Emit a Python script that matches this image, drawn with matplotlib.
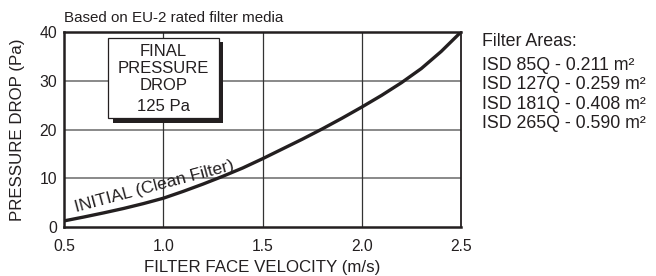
import matplotlib
matplotlib.use("Agg")
import matplotlib.pyplot as plt
from matplotlib.patches import Rectangle

plt.rcParams['font.family'] = ['Liberation Sans', 'DejaVu Sans']

velocity = [0.5, 0.6, 0.7, 0.8, 0.9, 1.0, 1.1, 1.2, 1.3, 1.4, 1.5, 1.6, 1.7, 1.8,
            1.9, 2.0, 2.1, 2.2, 2.3, 2.4, 2.5]
pressure = [1.25, 2.05, 2.9, 3.8, 4.8, 5.9, 7.3, 8.8, 10.4, 12.1, 14.0, 16.0, 18.0, 20.1,
            22.3, 24.6, 27.0, 29.6, 32.5, 36.0, 40.0]

x_ticks = [0.5, 1.0, 1.5, 2.0, 2.5]
x_tick_labels = ["0.5", "1.0", "1.5", "2.0", "2.5"]
y_ticks = [0, 10, 20, 30, 40]
y_tick_labels = ["0", "10", "20", "30", "40"]

filter_areas = ["ISD 85Q - 0.211 m²", "ISD 127Q - 0.259 m²",
                "ISD 181Q - 0.408 m²", "ISD 265Q - 0.590 m²"]

W, H = 656, 276
fig = plt.figure(figsize=(W/100, H/100), dpi=100)
ax = fig.add_axes([64/W, 1-227/H, (461-64)/W, (227-32)/H])
ax.set_xlim(0.5, 2.5)
ax.set_ylim(0, 40)

ink = '#231f20'
# grid
for yv in [10, 20, 30]:
    ax.axhline(yv, color='#808080', lw=1.3, zorder=1)
for xv in [1.0, 1.5, 2.0]:
    ax.axvline(xv, color='#333333', lw=0.9, zorder=1)

for s in ['left', 'bottom', 'top']:
    ax.spines[s].set_linewidth(1.8)
    ax.spines[s].set_color(ink)
ax.spines['right'].set_linewidth(1.3)
ax.spines['right'].set_color(ink)

ax.set_xticks(x_ticks)
ax.set_xticklabels(x_tick_labels)
ax.set_yticks(y_ticks)
ax.set_yticklabels(y_tick_labels)
ax.tick_params(length=0, labelsize=11.3, colors=ink)
ax.tick_params(axis='x', pad=8.5)
ax.tick_params(axis='y', pad=5)

ax.plot(velocity, pressure, color=ink, lw=2.4, zorder=3, solid_capstyle='butt',
        solid_joinstyle='round')

ax.set_xlabel("FILTER FACE VELOCITY (m/s)", fontsize=12.2, color=ink, labelpad=4.5)
ax.set_ylabel("PRESSURE DROP (Pa)", fontsize=12.2, color=ink, labelpad=10)

# final pressure drop box with shadow
bx0, bx1 = 0.722, 1.28
by0, by1 = 22.3, 38.8
ax.add_patch(Rectangle((bx0 + 0.023, by0 - 0.95), bx1 - bx0, by1 - by0,
                       facecolor=ink, edgecolor='none', zorder=4))
ax.add_patch(Rectangle((bx0, by0), bx1 - bx0, by1 - by0,
                       facecolor='white', edgecolor=ink, lw=0.9, zorder=5))
bxc = (bx0 + bx1) / 2
ax.text(bxc, 35.0, "FINAL", ha='center', va='baseline', fontsize=12, color=ink, zorder=6)
ax.text(bxc, 31.6, "PRESSURE", ha='center', va='baseline', fontsize=12, color=ink, zorder=6)
ax.text(bxc, 28.2, "DROP", ha='center', va='baseline', fontsize=12, color=ink, zorder=6)
ax.text(bxc, 23.8, "125 Pa", ha='center', va='baseline', fontsize=12, color=ink, zorder=6)

ax.text(0.955, 8.4, "INITIAL (Clean Filter)", rotation=15, rotation_mode='anchor',
        ha='center', va='center', fontsize=12.6, color=ink, zorder=6)

fig.text(64/W, 1-22/H, "Based on EU-2 rated filter media", ha='left', va='baseline',
         fontsize=10.9, color=ink)

fig.text(482/W, 1-46.5/H, "Filter Areas:", ha='left', va='baseline', fontsize=12.8, color=ink)
for i, t in enumerate(filter_areas):
    fig.text(482/W, 1-(69.5 + 19.5*i)/H, t, ha='left', va='baseline', fontsize=12.8, color=ink)

fig.savefig("out.png", dpi=100)
